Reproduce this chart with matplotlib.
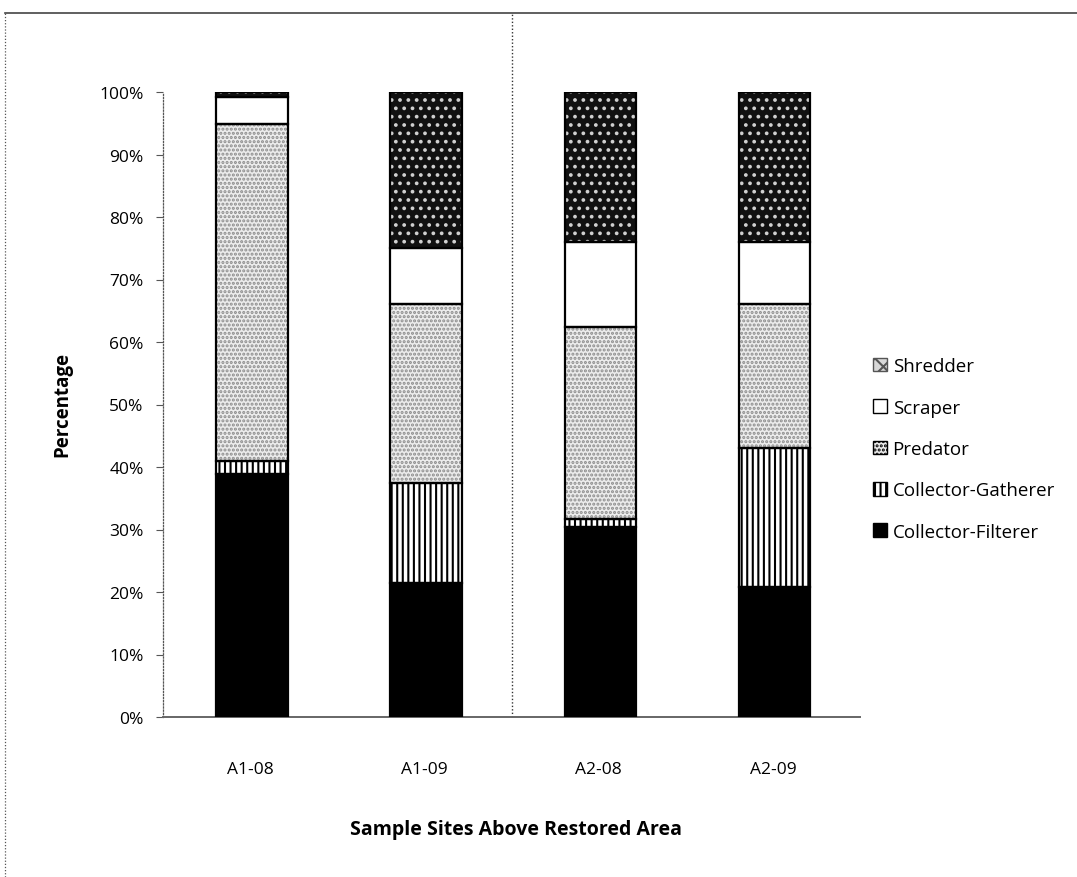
import matplotlib
matplotlib.use("Agg")
import numpy as np
import matplotlib.pyplot as plt
from matplotlib.patches import Patch
from matplotlib.lines import Line2D

plt.rcParams['font.family'] = ['Open Sans', 'DejaVu Sans']
plt.rcParams['hatch.linewidth'] = 1.5

# data (percent of individuals)
sites = ['A1-08', 'A1-09', 'A2-08', 'A2-09']
groups = ['Collector-Filterer', 'Collector-Gatherer', 'Predator', 'Scraper', 'Shredder']
collector_filterer = [38.9, 21.4, 30.4, 20.8]
collector_gatherer = [2.1, 16.0, 1.3, 22.2]
predator = [53.9, 28.7, 30.7, 23.1]
scraper = [4.3, 8.9, 13.6, 9.9]
shredder = [0.8, 25.0, 24.0, 24.0]

series = [collector_filterer, collector_gatherer, predator, scraper, shredder]

# fill, hatch, hatch colour for each group
styles = {
    'Collector-Filterer': ('#000000', None, '#000000'),
    'Collector-Gatherer': ('#ffffff', '|||', '#000000'),
    'Predator': ('#ececec', '....', '#8c8c8c'),
    'Scraper': ('#ffffff', None, '#000000'),
    'Shredder': ('#111111', '..', '#d0d0d0'),
}

fig = plt.figure(figsize=(10.77, 8.78), dpi=100)
ax = fig.add_axes([163 / 1077, 1 - 718 / 878, 697 / 1077, 625 / 878])

x = np.arange(len(sites))
width = 0.41
bottom = np.zeros(len(sites))
for name, vals in zip(groups, series):
    vals = np.array(vals) / 100.0
    fc, hatch, hc = styles[name]
    ax.bar(x + 0.01, vals, width, bottom=bottom, color=fc, hatch=hatch,
           edgecolor=hc, linewidth=0, zorder=2)
    ax.bar(x + 0.01, vals, width, bottom=bottom, fill=False, edgecolor='black',
           linewidth=1.6, zorder=3)
    bottom += vals

ax.set_xlim(-0.5, 3.5)
ax.set_ylim(0, 1.0)
ax.set_yticks(np.arange(0, 1.01, 0.1))
ax.set_yticklabels(['{}%'.format(int(round(v * 100))) for v in np.arange(0, 1.01, 0.1)])
ax.set_xticks(x)
ax.set_xticklabels(sites)
ax.tick_params(axis='x', length=0, pad=32, labelsize=12.5)
ax.tick_params(axis='y', length=5, width=0.8, pad=9, labelsize=12.5, color='#555555')

for s in ['top', 'right']:
    ax.spines[s].set_visible(False)
ax.spines['left'].set_linestyle((0, (1, 1.5)))
ax.spines['left'].set_color('#555555')
ax.spines['left'].set_linewidth(0.9)
ax.spines['bottom'].set_color('#666666')
ax.spines['bottom'].set_linewidth(1.4)

# dotted divider between the two reaches
ax.axvline(1.5, ymin=0, ymax=(718 - 14) / 625, color='#333333', linestyle=(0, (1, 1.5)),
           linewidth=1.0, clip_on=False, zorder=1)

fig.text(62 / 1077, 1 - 405 / 878, 'Percentage', rotation=90, ha='center', va='center',
         fontsize=13.5, fontweight='bold')
fig.text(516 / 1077, 1 - 830 / 878, 'Sample Sites Above Restored Area', ha='center',
         va='center', fontsize=14, fontweight='bold')

# legend, top item first
handles = []
for name in groups[::-1]:
    fc, hatch, hc = styles[name]
    if name == 'Shredder':
        handles.append(Patch(facecolor='#d8d8d8', hatch='xx', edgecolor='#555555', linewidth=1))
    elif name == 'Collector-Filterer':
        handles.append(Patch(facecolor='#000000', edgecolor='#000000', linewidth=1))
    else:
        handles.append(Patch(facecolor=fc, hatch=hatch, edgecolor='#000000', linewidth=1))
fig.legend(handles, groups[::-1], loc='center left', bbox_to_anchor=(856 / 1077, 1 - 450 / 878),
           frameon=False, fontsize=13.5, handlelength=0.75, handleheight=0.75,
           handletextpad=0.3, labelspacing=1.25)

# outer frame of the scanned chart area
fig.add_artist(Line2D([5 / 1077, 1.0], [1 - 14 / 878, 1 - 14 / 878], color='#444444',
                      linewidth=1.2, transform=fig.transFigure))
fig.add_artist(Line2D([5 / 1077, 5 / 1077], [0, 1 - 14 / 878], color='#555555',
                      linewidth=0.9, linestyle=(0, (1, 1.5)), transform=fig.transFigure))

fig.savefig('out.png', dpi=100)
